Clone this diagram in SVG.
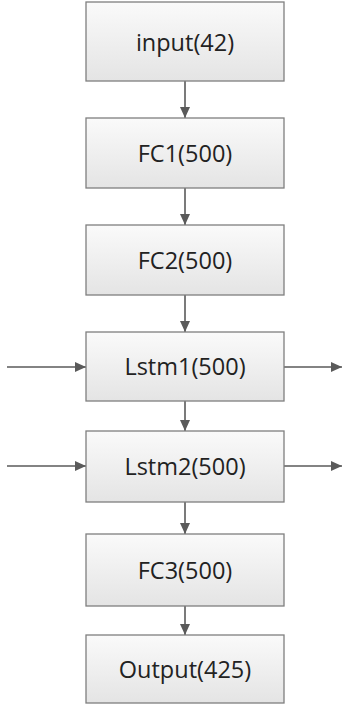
<svg xmlns="http://www.w3.org/2000/svg" width="342" height="709" viewBox="0 0 342 709">
<style>
.box{fill:url(#g);stroke:#7f7f7f;stroke-width:1.3}
.lbl{font-family:"Open Sans","Liberation Sans",sans-serif;font-size:23.5px;fill:#222;text-anchor:middle;dominant-baseline:central}
.c{stroke:#5a5a5a;stroke-width:1.6;fill:none;marker-end:url(#a)}
</style>
<defs>
<linearGradient id="g" x1="0" y1="0" x2="0" y2="1">
<stop offset="0" stop-color="#fafafa"/>
<stop offset="1" stop-color="#e4e4e4"/>
</linearGradient>
<marker id="a" viewBox="0 0 11 10" refX="11" refY="5" markerWidth="11" markerHeight="10" markerUnits="userSpaceOnUse" orient="auto">
<path d="M0,0 L11,5 L0,10 Z" fill="#5a5a5a"/>
</marker>
</defs>
<g id="connectors">
<line class="c" x1="185" y1="81" x2="185" y2="118"/>
<line class="c" x1="185" y1="188" x2="185" y2="225"/>
<line class="c" x1="185" y1="295" x2="185" y2="332"/>
<line class="c" x1="185" y1="401" x2="185" y2="431"/>
<line class="c" x1="185" y1="502" x2="185" y2="534"/>
<line class="c" x1="185" y1="606" x2="185" y2="635"/>
<line class="c" x1="7" y1="367" x2="86" y2="367"/>
<line class="c" x1="284" y1="367" x2="342" y2="367"/>
<line class="c" x1="7" y1="466" x2="86" y2="466"/>
<line class="c" x1="284" y1="466" x2="342" y2="466"/>
</g>
<g id="input"><rect class="box" x="86" y="2" width="198" height="79"/><text class="lbl" x="185" y="42">input(42)</text></g>
<g id="fc1"><rect class="box" x="86" y="118" width="198" height="70"/><text class="lbl" x="185" y="153">FC1(500)</text></g>
<g id="fc2"><rect class="box" x="86" y="225" width="198" height="70"/><text class="lbl" x="185" y="260">FC2(500)</text></g>
<g id="lstm1"><rect class="box" x="86" y="332" width="198" height="69"/><text class="lbl" x="185" y="366">Lstm1(500)</text></g>
<g id="lstm2"><rect class="box" x="86" y="431" width="198" height="71"/><text class="lbl" x="185" y="466">Lstm2(500)</text></g>
<g id="fc3"><rect class="box" x="86" y="534" width="198" height="72"/><text class="lbl" x="185" y="570">FC3(500)</text></g>
<g id="output"><rect class="box" x="86" y="635" width="198" height="68"/><text class="lbl" x="185" y="669">Output(425)</text></g>
</svg>
